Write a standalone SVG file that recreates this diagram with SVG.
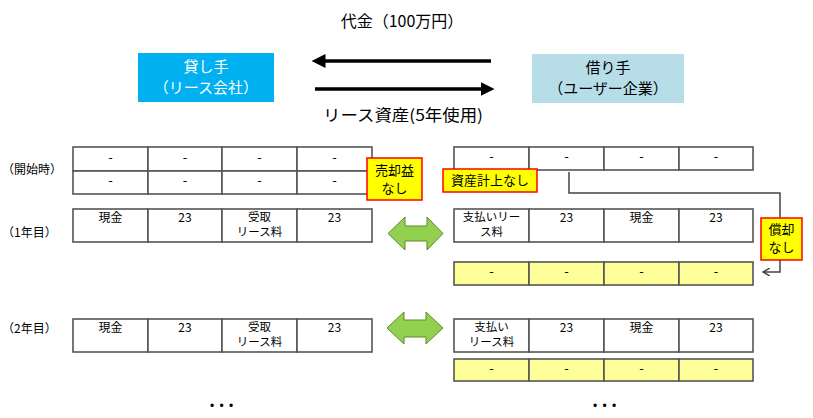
<svg xmlns="http://www.w3.org/2000/svg" width="813" height="418" viewBox="0 0 813 418">
<defs>
<style>
text{font-family:"Noto Sans CJK JP","Noto Sans",sans-serif;fill:#000}
.t16{font-size:16px}
.t15{font-size:15px}
.t12{font-size:12px}
.t11{font-size:11.5px}
.t13{font-size:13px}
.c{text-anchor:middle}
.cell{fill:#fff;stroke:#555;stroke-width:1.6}
.ycell{fill:#FFFF99;stroke:#555;stroke-width:1.6}
.tag{fill:#FFFF00;stroke:#FF0000;stroke-width:1.5}
.garrow{fill:#92D050;stroke:#5E8A2A;stroke-width:1}
.big{stroke:#000;stroke-width:3.5;fill:none}
.conn{stroke:#444;stroke-width:1.5;fill:none}
.dots{font-family:"Liberation Sans",sans-serif;font-size:12px;letter-spacing:5.3px}
</style>
<marker id="ah" markerWidth="4" markerHeight="4" refX="1" refY="2" orient="auto" markerUnits="strokeWidth">
<path d="M0,0 L4,2 L0,4 Z" fill="#000"/>
</marker>
<marker id="open" markerWidth="8" markerHeight="8" refX="7" refY="4" orient="auto" markerUnits="userSpaceOnUse">
<path d="M0,0 L7,4 L0,8" fill="none" stroke="#444" stroke-width="1.5"/>
</marker>
</defs>
<rect width="813" height="418" fill="#fff"/>

<g id="title-top"><text class="t16 c" x="402" y="27">代金（100万円）</text></g>
<g id="title-bottom"><text class="t16" x="323" y="121" textLength="160" lengthAdjust="spacingAndGlyphs">リース資産(5年使用)</text></g>

<g id="lessor">
<rect x="138" y="53" width="136" height="49" fill="#00B0F0"/>
<text class="t15 c" x="206" y="72" style="fill:#fff">貸し手</text>
<text class="t15 c" x="206" y="93" style="fill:#fff">（リース会社）</text>
</g>
<g id="lessee">
<rect x="532" y="54" width="152" height="49" fill="#B7DEE8"/>
<text class="t15 c" x="608" y="73">借り手</text>
<text class="t15 c" x="608" y="94">（ユーザー企業）</text>
</g>

<g id="connectors">
<line class="big" x1="491" y1="61" x2="322" y2="61" marker-end="url(#ah)"/>
<line class="big" x1="315" y1="89" x2="484" y2="89" marker-end="url(#ah)"/>
<polyline class="conn" points="569,172 569,193 780,193 780,272 763,272" marker-end="url(#open)"/>
</g>

<g id="labels">
<text class="t12" x="2" y="174">（開始時）</text>
<text class="t12" x="2" y="237">（1年目）</text>
<text class="t12" x="2" y="333">（2年目）</text>
</g>

<g id="lessor-start">
<rect class="cell" x="73" y="147" width="75" height="24"/><rect class="cell" x="148" y="147" width="74" height="24"/><rect class="cell" x="222" y="147" width="75" height="24"/><rect class="cell" x="297" y="147" width="75" height="24"/>
<rect class="cell" x="73" y="171" width="75" height="23"/><rect class="cell" x="148" y="171" width="74" height="23"/><rect class="cell" x="222" y="171" width="75" height="23"/><rect class="cell" x="297" y="171" width="75" height="23"/>
<text class="t13 c" x="110.5" y="162">-</text><text class="t13 c" x="185" y="162">-</text><text class="t13 c" x="259.5" y="162">-</text><text class="t13 c" x="334.5" y="162">-</text>
<text class="t13 c" x="110.5" y="185">-</text><text class="t13 c" x="185" y="185">-</text><text class="t13 c" x="259.5" y="185">-</text><text class="t13 c" x="334.5" y="185">-</text>
</g>

<g id="lessor-y1">
<rect class="cell" x="73" y="209" width="75" height="33"/><rect class="cell" x="148" y="209" width="74" height="33"/><rect class="cell" x="222" y="209" width="75" height="33"/><rect class="cell" x="297" y="209" width="75" height="33"/>
<text class="t12 c" x="110.5" y="222">現金</text><text class="t12 c" x="185" y="222">23</text><text class="t11 c" x="259.5" y="221">受取</text><text class="t11 c" x="259.5" y="236">リース料</text><text class="t12 c" x="334.5" y="222">23</text>
</g>

<g id="lessor-y2">
<rect class="cell" x="73" y="319" width="75" height="33"/><rect class="cell" x="148" y="319" width="74" height="33"/><rect class="cell" x="222" y="319" width="75" height="33"/><rect class="cell" x="297" y="319" width="75" height="33"/>
<text class="t12 c" x="110.5" y="332">現金</text><text class="t12 c" x="185" y="332">23</text><text class="t11 c" x="259.5" y="331">受取</text><text class="t11 c" x="259.5" y="346">リース料</text><text class="t12 c" x="334.5" y="332">23</text>
</g>

<g id="lessee-start">
<rect class="cell" x="454" y="147" width="75" height="23"/><rect class="cell" x="529" y="147" width="75" height="23"/><rect class="cell" x="604" y="147" width="75" height="23"/><rect class="cell" x="679" y="147" width="74" height="23"/>
<text class="t13 c" x="491.5" y="161">-</text><text class="t13 c" x="566.5" y="161">-</text><text class="t13 c" x="641.5" y="161">-</text><text class="t13 c" x="716" y="161">-</text>
</g>

<g id="lessee-y1">
<rect class="cell" x="454" y="209" width="75" height="33"/><rect class="cell" x="529" y="209" width="75" height="33"/><rect class="cell" x="604" y="209" width="75" height="33"/><rect class="cell" x="679" y="209" width="74" height="33"/>
<text class="t11 c" x="491.5" y="221">支払いリー</text><text class="t11 c" x="491.5" y="236">ス料</text><text class="t12 c" x="566.5" y="222">23</text><text class="t12 c" x="641.5" y="222">現金</text><text class="t12 c" x="716" y="222">23</text>
</g>
<g id="lessee-y1-asset">
<rect class="ycell" x="454" y="262" width="75" height="23"/><rect class="ycell" x="529" y="262" width="75" height="23"/><rect class="ycell" x="604" y="262" width="75" height="23"/><rect class="ycell" x="679" y="262" width="74" height="23"/>
<text class="t13 c" x="491.5" y="276">-</text><text class="t13 c" x="566.5" y="276">-</text><text class="t13 c" x="641.5" y="276">-</text><text class="t13 c" x="716" y="276">-</text>
</g>

<g id="lessee-y2">
<rect class="cell" x="454" y="319" width="75" height="33"/><rect class="cell" x="529" y="319" width="75" height="33"/><rect class="cell" x="604" y="319" width="75" height="33"/><rect class="cell" x="679" y="319" width="74" height="33"/>
<text class="t11 c" x="491.5" y="331">支払い</text><text class="t11 c" x="491.5" y="346">リース料</text><text class="t12 c" x="566.5" y="332">23</text><text class="t12 c" x="641.5" y="332">現金</text><text class="t12 c" x="716" y="332">23</text>
</g>
<g id="lessee-y2-asset">
<rect class="ycell" x="454" y="359" width="75" height="22"/><rect class="ycell" x="529" y="359" width="75" height="22"/><rect class="ycell" x="604" y="359" width="75" height="22"/><rect class="ycell" x="679" y="359" width="74" height="22"/>
<text class="t13 c" x="491.5" y="373">-</text><text class="t13 c" x="566.5" y="373">-</text><text class="t13 c" x="641.5" y="373">-</text><text class="t13 c" x="716" y="373">-</text>
</g>

<g id="tag-gain">
<rect class="tag" x="367" y="158" width="55" height="42"/>
<text class="t13 c" x="394.5" y="175">売却益</text><text class="t13 c" x="394.5" y="193">なし</text>
</g>
<g id="tag-asset">
<rect class="tag" x="443" y="169" width="94" height="23"/>
<text class="t13 c" x="490" y="185">資産計上なし</text>
</g>
<g id="tag-depr">
<rect class="tag" x="761" y="218" width="41" height="42"/>
<text class="t13 c" x="781.5" y="234">償却</text><text class="t13 c" x="781.5" y="252">なし</text>
</g>

<g id="swap1">
<polygon class="garrow" points="388,233.5 405,217 405,226 427,226 427,217 443,233.5 427,250 427,241 405,241 405,250"/>
</g>
<g id="swap2">
<polygon class="garrow" points="387,328 404,312 404,320 426,320 426,312 443,328 426,344 426,337 404,337 404,344"/>
</g>

<g id="ellipsis">
<text class="dots" x="210" y="410">•••</text>
<text class="dots" x="593" y="410">•••</text>
</g>
</svg>
